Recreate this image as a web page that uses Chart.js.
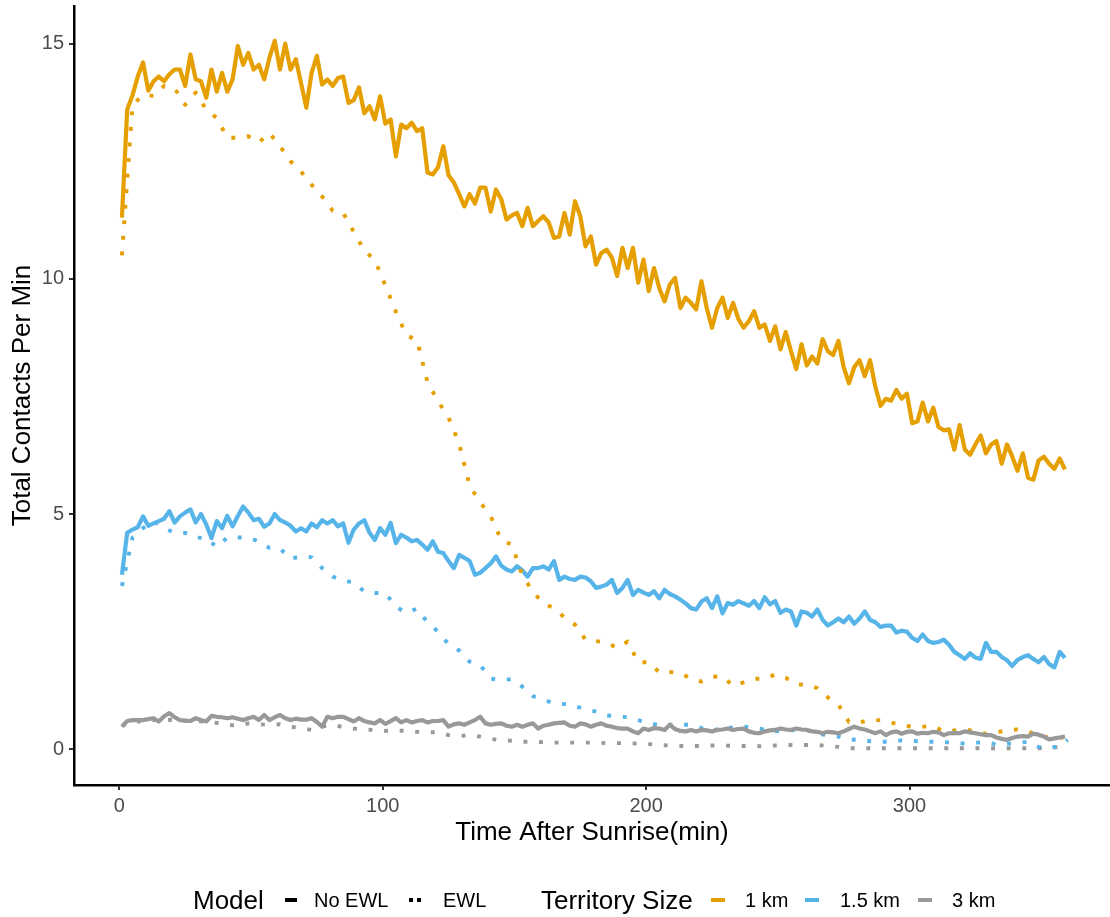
<!DOCTYPE html>
<html>
<head>
<meta charset="utf-8">
<title>Total Contacts Per Min</title>
<script src="https://cdn.jsdelivr.net/npm/chart.js@4.4.1/dist/chart.umd.min.js"></script>
<style>
  html, body { margin: 0; padding: 0; background: #fff; }
  #wrap { position: relative; width: 1110px; height: 917px; font-family: "Liberation Sans", Arial, sans-serif; }
  #chart { position: absolute; left: 0; top: 0; }
  .lg { position: absolute; top: 900px; transform: translateY(-50%); white-space: nowrap; color: #000; line-height: 1; }
  .lg.title { font-size: 26px; }
  .lg.label { font-size: 20px; }
  .key { position: absolute; top: 900px; height: 4px; margin-top: -2px; }
  .key.dots { background-image: linear-gradient(to right, #000 0 4px, transparent 4px 8px); background-size: 8px 4px; }
</style>
</head>
<body>
<div id="wrap">
  <canvas id="chart" width="1110" height="917"></canvas>
  <span class="lg title" style="left:193px">Model</span>
  <span class="key" style="left:285px;width:12px;background:#000"></span>
  <span class="lg label" style="left:314px">No EWL</span>
  <span class="key dots" style="left:409px;width:12px"></span>
  <span class="lg label" style="left:443px">EWL</span>
  <span class="lg title" style="left:541px">Territory Size</span>
  <span class="key" id="k1" style="left:711px;width:14px"></span>
  <span class="lg label" style="left:745px">1 km</span>
  <span class="key" id="k2" style="left:805px;width:14px"></span>
  <span class="lg label" style="left:840px">1.5 km</span>
  <span class="key" id="k3" style="left:918px;width:14px"></span>
  <span class="lg label" style="left:952px">3 km</span>
</div>
<script>
// Minutes after sunrise for the model without early-warning lag (every 2 min)
const minutes = [1,3,5,7,9,11,13,15,17,19,
  21,23,25,27,29,31,33,35,37,39,
  41,43,45,47,49,51,53,55,57,59,
  61,63,65,67,69,71,73,75,77,79,
  81,83,85,87,89,91,93,95,97,99,
  101,103,105,107,109,111,113,115,117,119,
  121,123,125,127,129,131,133,135,137,139,
  141,143,145,147,149,151,153,155,157,159,
  161,163,165,167,169,171,173,175,177,179,
  181,183,185,187,189,191,193,195,197,199,
  201,203,205,207,209,211,213,215,217,219,
  221,223,225,227,229,231,233,235,237,239,
  241,243,245,247,249,251,253,255,257,259,
  261,263,265,267,269,271,273,275,277,279,
  281,283,285,287,289,291,293,295,297,299,
  301,303,305,307,309,311,313,315,317,319,
  321,323,325,327,329,331,333,335,337,339,
  341,343,345,347,349,351,353,355,357,359];

// Minutes for the EWL model (every 4 min)
const ewlMinutes = [1,5,9,13,17,21,25,29,33,37,
  41,45,49,53,57,61,65,69,73,77,
  81,85,89,93,97,101,105,109,113,117,
  121,125,129,133,137,141,145,149,153,157,
  161,165,169,173,177,181,185,189,193,197,
  201,205,209,213,217,221,225,229,233,237,
  241,245,249,253,257,261,265,269,273,277,
  281,285,289,293,297,301,305,309,313,317,
  321,325,329,333,337,341,345,349,353,357,
  360];

// Total contacts per minute, No EWL
const noEwl1km = [11.3,13.6,13.9,14.3,14.6,14.0,14.2,14.3,14.2,14.35,
  14.45,14.45,14.1,14.77,14.24,14.2,13.85,14.45,13.98,14.38,
  13.98,14.24,14.95,14.55,14.8,14.45,14.55,14.24,14.7,15.06,
  14.45,15.0,14.45,14.67,14.16,13.64,14.38,14.74,14.13,14.24,
  14.1,14.27,14.3,13.74,13.8,14.07,13.52,13.67,13.39,13.88,
  13.3,13.39,12.6,13.28,13.2,13.32,13.14,13.2,12.26,12.22,
  12.37,12.82,12.2,12.05,11.8,11.54,11.8,11.6,11.94,11.94,
  11.43,11.9,11.69,11.26,11.35,11.4,11.12,11.51,11.12,11.23,
  11.33,11.2,10.87,10.9,11.4,10.94,11.65,11.33,10.69,10.9,
  10.3,10.55,10.62,10.45,10.06,10.66,10.23,10.66,9.92,10.41,
  9.74,10.23,9.8,9.52,9.88,10.02,9.38,9.6,9.49,9.35,
  9.95,9.38,8.96,9.38,9.6,9.17,9.49,9.15,8.96,9.1,
  9.31,8.96,9.03,8.68,8.99,8.5,8.87,8.46,8.08,8.61,
  8.16,8.35,8.2,8.72,8.46,8.38,8.68,8.12,7.78,8.12,
  8.27,7.93,8.27,7.71,7.3,7.45,7.41,7.64,7.45,7.56,
  6.93,6.97,7.37,6.97,7.26,6.85,6.78,6.8,6.37,6.89,
  6.37,6.26,6.48,6.67,6.29,6.48,6.55,6.07,6.48,6.22,
  5.92,6.29,5.77,5.73,6.14,6.22,6.07,5.96,6.18,5.95];

const noEwl15km = [3.71,4.6,4.67,4.72,4.95,4.75,4.8,4.85,4.9,5.06,
  4.82,4.95,5.03,5.1,4.82,5.0,4.78,4.49,4.85,4.7,
  4.96,4.74,4.96,5.16,5.03,4.87,4.9,4.73,4.8,5.0,
  4.87,4.82,4.75,4.63,4.7,4.63,4.8,4.72,4.87,4.8,
  4.87,4.74,4.8,4.39,4.67,4.8,4.87,4.6,4.45,4.7,
  4.56,4.81,4.38,4.56,4.5,4.42,4.45,4.35,4.24,4.42,
  4.2,4.17,4.0,3.85,4.13,4.07,4.0,3.71,3.75,3.85,
  3.95,4.1,3.9,3.82,3.78,3.89,3.8,3.67,3.85,3.85,
  3.89,3.82,4.0,3.6,3.67,3.62,3.6,3.67,3.65,3.57,
  3.43,3.46,3.5,3.6,3.32,3.43,3.6,3.28,3.39,3.33,
  3.28,3.36,3.21,3.39,3.3,3.25,3.18,3.1,3.0,2.97,
  3.14,3.21,3.0,3.25,2.89,3.11,3.07,3.15,3.1,3.05,
  3.15,3.0,3.23,3.08,3.15,2.9,2.97,2.93,2.63,2.93,
  2.9,2.82,2.97,2.75,2.63,2.7,2.78,2.7,2.82,2.67,
  2.78,2.93,2.75,2.7,2.6,2.63,2.63,2.48,2.52,2.5,
  2.37,2.3,2.44,2.3,2.26,2.28,2.33,2.22,2.07,2.0,
  1.92,2.04,1.95,1.92,2.26,2.07,2.07,1.96,1.89,1.77,
  1.9,1.96,2.0,1.92,1.85,1.96,1.81,1.74,2.07,1.94];

const noEwl3km = [0.48,0.6,0.62,0.62,0.62,0.64,0.66,0.59,0.7,0.77,
  0.68,0.62,0.61,0.6,0.66,0.62,0.59,0.71,0.69,0.68,
  0.66,0.68,0.65,0.62,0.66,0.69,0.62,0.73,0.62,0.68,
  0.73,0.66,0.62,0.65,0.63,0.63,0.66,0.58,0.48,0.69,
  0.66,0.69,0.69,0.64,0.59,0.66,0.6,0.57,0.55,0.62,
  0.54,0.6,0.66,0.57,0.62,0.57,0.6,0.62,0.57,0.6,
  0.6,0.62,0.48,0.53,0.55,0.52,0.57,0.62,0.69,0.55,
  0.52,0.54,0.55,0.5,0.48,0.52,0.48,0.52,0.55,0.44,
  0.5,0.52,0.55,0.56,0.57,0.5,0.48,0.55,0.53,0.48,
  0.52,0.55,0.5,0.48,0.45,0.44,0.44,0.38,0.34,0.44,
  0.41,0.45,0.44,0.41,0.52,0.43,0.39,0.38,0.41,0.38,
  0.41,0.4,0.38,0.41,0.42,0.44,0.41,0.43,0.44,0.38,
  0.35,0.34,0.38,0.4,0.41,0.44,0.42,0.41,0.44,0.42,
  0.41,0.38,0.37,0.34,0.37,0.36,0.34,0.38,0.43,0.48,
  0.44,0.42,0.38,0.34,0.38,0.3,0.36,0.38,0.33,0.37,
  0.38,0.33,0.35,0.34,0.37,0.36,0.3,0.34,0.35,0.34,
  0.38,0.36,0.34,0.32,0.3,0.3,0.25,0.22,0.2,0.24,
  0.27,0.28,0.27,0.33,0.31,0.27,0.21,0.23,0.25,0.27];

// Total contacts per minute, EWL
const ewl1km = [10.5,13.7,13.9,13.89,14.1,14.05,13.7,13.96,13.6,13.42,
  13.0,13.0,13.03,12.9,13.1,12.82,12.5,12.28,12.0,11.75,
  11.45,11.4,11.0,10.6,10.4,9.86,9.3,8.8,8.7,7.8,
  7.4,7.05,6.5,5.6,5.25,4.95,4.45,4.35,3.7,3.35,
  3.1,3.0,2.8,2.65,2.33,2.3,2.27,2.15,2.29,1.85,
  1.85,1.63,1.64,1.62,1.5,1.44,1.54,1.55,1.35,1.42,
  1.5,1.5,1.59,1.52,1.38,1.37,1.3,1.1,0.95,0.58,
  0.57,0.62,0.62,0.57,0.51,0.48,0.48,0.49,0.38,0.4,
  0.42,0.38,0.33,0.36,0.4,0.42,0.38,0.28,0.25,0.25,
  0.24];

const ewl15km = [3.47,4.5,4.7,4.85,4.7,4.6,4.6,4.5,4.49,4.3,
  4.5,4.5,4.5,4.42,4.28,4.27,4.05,4.1,4.08,3.85,
  3.67,3.58,3.55,3.35,3.32,3.32,3.03,2.9,2.99,2.7,
  2.5,2.23,2.1,1.86,1.79,1.5,1.47,1.49,1.33,1.13,
  1.05,0.98,0.96,0.91,0.86,0.8,0.72,0.7,0.68,0.62,
  0.56,0.51,0.52,0.52,0.52,0.45,0.38,0.48,0.45,0.48,
  0.46,0.42,0.38,0.4,0.41,0.41,0.33,0.3,0.27,0.2,
  0.21,0.17,0.16,0.16,0.19,0.18,0.16,0.16,0.15,0.14,
  0.12,0.14,0.15,0.1,0.12,0.13,0.16,0.05,0.03,0.06,
  0.2];

const ewl3km = [0.5,0.58,0.6,0.62,0.63,0.62,0.6,0.6,0.58,0.56,
  0.52,0.5,0.55,0.53,0.52,0.53,0.48,0.45,0.41,0.48,
  0.52,0.47,0.44,0.42,0.41,0.39,0.4,0.39,0.37,0.36,
  0.36,0.3,0.28,0.3,0.27,0.22,0.19,0.18,0.16,0.16,
  0.15,0.14,0.14,0.14,0.14,0.14,0.13,0.13,0.13,0.12,
  0.11,0.09,0.08,0.07,0.07,0.07,0.08,0.08,0.07,0.07,
  0.06,0.07,0.08,0.09,0.09,0.09,0.09,0.07,0.05,0.02,
  0.02,0.02,0.02,0.02,0.02,0.02,0.02,0.02,0.02,0.02,
  0.02,0.02,0.02,0.02,0.02,0.02,0.02,0.02,0.03,0.05,
  0.06];

const xTicks = [0, 100, 200, 300];
const yTicks = [0, 5, 10, 15];

const territoryColors = { '1 km': '#E69F00', '1.5 km': '#56B4E9', '3 km': '#999999' };
document.getElementById('k1').style.background = territoryColors['1 km'];
document.getElementById('k2').style.background = territoryColors['1.5 km'];
document.getElementById('k3').style.background = territoryColors['3 km'];

const toPoints = (xs, ys) => xs.map((x, i) => ({ x: x, y: ys[i] }));

const LW = 4.2;
function series(label, xs, ys, color, dotted) {
  return {
    label: label,
    data: toPoints(xs, ys),
    borderColor: color,
    backgroundColor: color,
    borderWidth: dotted ? 3.9 : LW,
    borderDash: dotted ? [3.9, 11.7] : [],
    borderCapStyle: 'butt',
    borderJoinStyle: 'round',
    pointRadius: 0,
    tension: 0,
    fill: false
  };
}

const datasets = [
  series('3 km, No EWL', minutes, noEwl3km, territoryColors['3 km'], false),
  series('1 km, EWL', ewlMinutes, ewl1km, territoryColors['1 km'], true),
  series('1.5 km, EWL', ewlMinutes, ewl15km, territoryColors['1.5 km'], true),
  series('3 km, EWL', ewlMinutes, ewl3km, territoryColors['3 km'], true),
  series('1.5 km, No EWL', minutes, noEwl15km, territoryColors['1.5 km'], false),
  series('1 km, No EWL', minutes, noEwl1km, territoryColors['1 km'], false)
];

const FONT = '"Liberation Sans", Arial, sans-serif';

new Chart(document.getElementById('chart'), {
  type: 'line',
  data: { datasets: datasets },
  options: {
    responsive: false,
    animation: false,
    events: [],
    layout: { padding: { top: 6, right: 0, bottom: 0, left: 0 } },
    plugins: { legend: { display: false }, tooltip: { enabled: false } },
    scales: {
      x: {
        type: 'linear',
        min: -17.2,
        max: 376.1,
        afterBuildTicks: s => { s.ticks = xTicks.map(v => ({ value: v })); },
        afterFit: s => { s.height = 132; s.paddingLeft = 0; s.paddingRight = 0; },
        grid: { display: true, drawOnChartArea: false, drawTicks: true, tickLength: 5, color: '#333333', lineWidth: 2 },
        border: { display: true, color: '#000000', width: 2.5 },
        ticks: { color: '#4D4D4D', font: { family: FONT, size: 20 }, padding: 4, maxRotation: 0,
                 callback: v => String(v) },
        title: { display: true, text: 'Time After Sunrise(min)', color: '#000000',
                 font: { family: FONT, size: 26 }, padding: { top: 0, bottom: 69 } }
      },
      y: {
        type: 'linear',
        min: -0.76,
        max: 15.8,
        afterBuildTicks: s => { s.ticks = yTicks.map(v => ({ value: v })); },
        afterFit: s => { s.width = 74; s.paddingTop = 0; s.paddingBottom = 0; },
        grid: { display: true, drawOnChartArea: false, drawTicks: true, tickLength: 5, color: '#333333', lineWidth: 2 },
        border: { display: true, color: '#000000', width: 2.5 },
        ticks: { color: '#4D4D4D', font: { family: FONT, size: 20 }, padding: 5,
                 callback: v => String(v) },
        title: { display: true, text: 'Total Contacts Per Min', color: '#000000',
                 font: { family: FONT, size: 26 }, padding: { top: 7, bottom: 0 } }
      }
    }
  }
});
</script>
</body>
</html>
